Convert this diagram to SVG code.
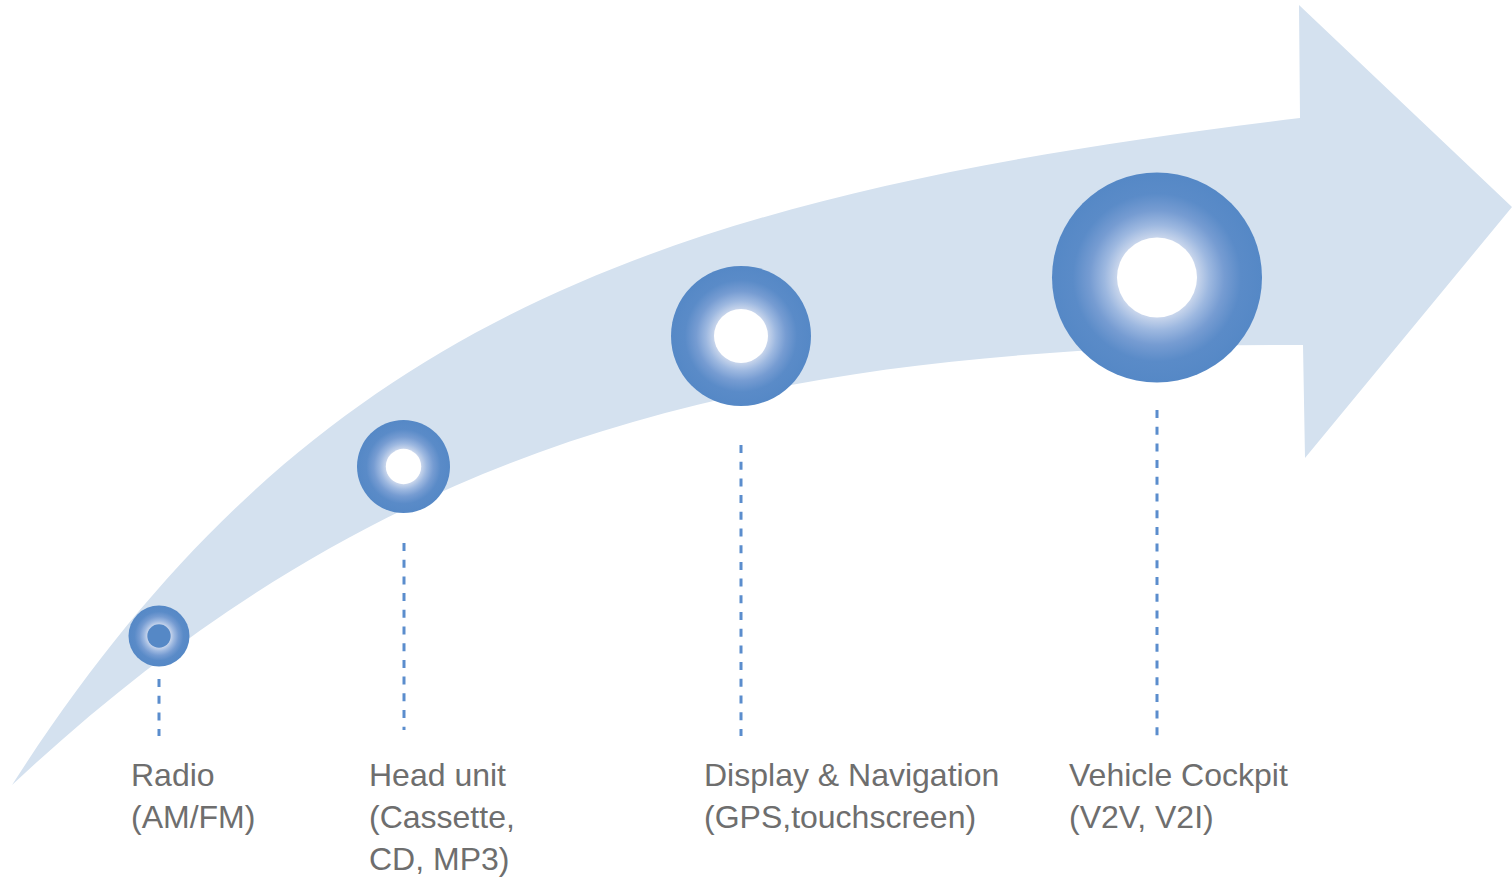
<svg xmlns="http://www.w3.org/2000/svg" width="1512" height="877" viewBox="0 0 1512 877">
<defs>
<radialGradient id="g" cx="0.5" cy="0.5" r="0.5">
<stop offset="0" stop-color="#D2DDEF"/>
<stop offset="0.38" stop-color="#C9D6EC"/>
<stop offset="0.5" stop-color="#9DB8E0"/>
<stop offset="0.64" stop-color="#769CD2"/>
<stop offset="0.8" stop-color="#5A8BC8"/>
<stop offset="1" stop-color="#5588C6"/>
</radialGradient>
<style>
.ring{fill:url(#g)}
.hole{fill:#FFFFFF}
.dot{fill:#5588C6}
.dash{stroke:#5B8DCD;stroke-width:3;stroke-dasharray:8 8.7;fill:none}
.lbl{font-family:"Liberation Sans",Arial,sans-serif;font-size:32px;fill:#6E6E6E}
</style>
</defs>
<rect width="1512" height="877" fill="#FFFFFF"/>
<path id="arrow" d="M12,785 C310,320 660,195 1300,118 L1299,5 L1512,207 L1305,458 L1303,345 C750,345 380,440 12,785 Z" fill="#D4E1EF"/>
<g id="connectors">
<line class="dash" x1="159" y1="679" x2="159" y2="736"/>
<line class="dash" x1="404" y1="543" x2="404" y2="730"/>
<line class="dash" x1="741" y1="445" x2="741" y2="736"/>
<line class="dash" x1="1157" y1="410" x2="1157" y2="736"/>
</g>
<g id="radio">
<circle class="ring" cx="159" cy="636" r="30.5"/>
<circle class="dot" cx="159" cy="636" r="11.7"/>
<text class="lbl" x="131" y="786">Radio</text>
<text class="lbl" x="131" y="828">(AM/FM)</text>
</g>
<g id="headunit">
<circle class="ring" cx="403.5" cy="466.5" r="46.5"/>
<circle class="hole" cx="403.5" cy="466.5" r="17.7"/>
<text class="lbl" x="369" y="786">Head unit</text>
<text class="lbl" x="369" y="828">(Cassette,</text>
<text class="lbl" x="369" y="870">CD, MP3)</text>
</g>
<g id="display">
<circle class="ring" cx="741" cy="336" r="70"/>
<circle class="hole" cx="741" cy="336" r="27"/>
<text class="lbl" x="704" y="786">Display &amp; Navigation</text>
<text class="lbl" x="704" y="828">(GPS,touchscreen)</text>
</g>
<g id="cockpit">
<circle class="ring" cx="1157" cy="277.5" r="105"/>
<circle class="hole" cx="1157" cy="277.5" r="40"/>
<text class="lbl" x="1069" y="786">Vehicle Cockpit</text>
<text class="lbl" x="1069" y="828">(V2V, V2I)</text>
</g>
</svg>
